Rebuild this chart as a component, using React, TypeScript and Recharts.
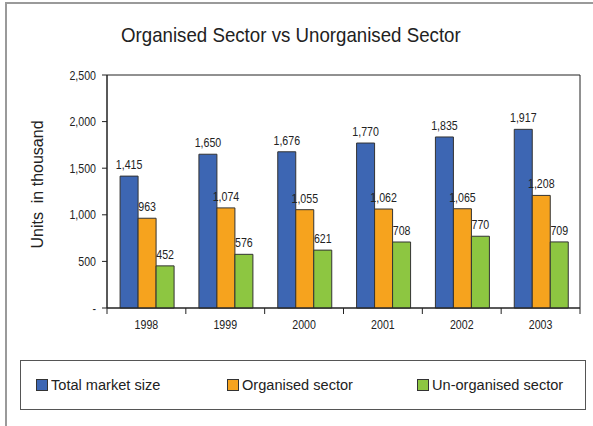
import { BarChart, Bar, XAxis, YAxis, LabelList, ReferenceArea } from "recharts";

// Units in thousand
const years = ["1998", "1999", "2000", "2001", "2002", "2003"];
const totalMarket = [1415, 1650, 1676, 1770, 1835, 1917];
const organised = [963, 1074, 1055, 1062, 1065, 1208];
const unorganised = [452, 576, 621, 708, 770, 709];
const yTicks = [0, 500, 1000, 1500, 2000, 2500];

const series = [
  { key: "total", name: "Total market size", color: "#3d66b3" },
  { key: "organised", name: "Organised sector", color: "#f6a31e" },
  { key: "unorganised", name: "Un-organised sector", color: "#8dc641" },
];

const data = years.map((year, i) => ({
  year,
  total: totalMarket[i],
  organised: organised[i],
  unorganised: unorganised[i],
}));

const W = 593;
const H = 426;
const margin = { top: 75, right: 13, bottom: 88, left: 47 };
const yAxisWidth = 60;
const plotWidth = W - margin.left - margin.right - yAxisWidth;
const band = plotWidth / years.length;

const sans = "'Liberation Sans', Arial, sans-serif";
const ink = "#222";
// the original uses a condensed face for numbers; squeeze Liberation Sans instead
const squeeze = 0.85;
const numSize = 12.5;

const fmt = (v: number) => (v === 0 ? "-" : v.toLocaleString("en-US"));

function Num({ x, y, anchor, children }: any) {
  return (
    <text
      transform={`translate(${x},${y}) scale(${squeeze},1)`}
      textAnchor={anchor}
      fontSize={numSize}
      fontFamily={sans}
      fill={ink}
    >
      {children}
    </text>
  );
}

function YearTick(props: any) {
  const { x, y, payload, index } = props;
  return (
    <g>
      <line x1={x - band / 2} y1={y} x2={x - band / 2} y2={y + 6} stroke={ink} />
      {index === years.length - 1 && (
        <line x1={x + band / 2} y1={y} x2={x + band / 2} y2={y + 6} stroke={ink} />
      )}
      <Num x={x} y={y + 20.5} anchor="middle">
        {payload.value}
      </Num>
    </g>
  );
}

function ValueTick(props: any) {
  const { x, y, payload } = props;
  return (
    <Num x={x} y={y + 4.5} anchor="end">
      {fmt(payload.value)}
    </Num>
  );
}

function BarValue(props: any) {
  const { x, y, width, value } = props;
  return (
    <Num x={x + width / 2} y={y - 7} anchor="middle">
      {fmt(Number(value))}
    </Num>
  );
}

function UnitsLabel(props: any) {
  const { viewBox } = props;
  const cx = viewBox.x - 10;
  const cy = viewBox.y + viewBox.height / 2 - 7;
  return (
    <text
      x={cx}
      y={cy}
      transform={`rotate(-90 ${cx} ${cy})`}
      textAnchor="middle"
      dominantBaseline="central"
      fontSize={16}
      fontFamily={sans}
      fill={ink}
      style={{ whiteSpace: "pre" }}
    >
      Units  in thousand
    </text>
  );
}

export default function App() {
  return (
    <div
      style={{
        position: "fixed",
        left: 0,
        top: 0,
        width: W,
        height: H,
        overflow: "hidden",
        background: "#fff",
      }}
    >
      {/* outer frame, runs off the right and bottom edge */}
      <div
        style={{
          position: "absolute",
          left: 5,
          top: 2,
          width: 640,
          height: 460,
          border: "2px solid #9a9a9a",
        }}
      />
      <div
        style={{
          position: "absolute",
          left: 0,
          top: 23,
          width: 582,
          textAlign: "center",
          fontFamily: sans,
          fontSize: 21,
          lineHeight: "24px",
          color: ink,
        }}
      >
        <span style={{ display: "inline-block", transform: "scaleX(0.89)" }}>
          Organised Sector vs Unorganised Sector
        </span>
      </div>

      <div style={{ position: "absolute", left: 0, top: 0 }}>
        <BarChart width={W} height={H} data={data} margin={margin} barCategoryGap="16.6%" barGap={0}>
          <ReferenceArea y1={0} y2={2500} fill="none" stroke={ink} strokeWidth={1} ifOverflow="visible" />
          <XAxis
            dataKey="year"
            tickLine={false}
            tickSize={0}
            tickMargin={0}
            height={30}
            axisLine={{ stroke: ink }}
            tick={<YearTick />}
            interval={0}
          />
          <YAxis
            width={yAxisWidth}
            domain={[0, 2500]}
            ticks={yTicks}
            tickSize={5}
            tickMargin={6}
            axisLine={{ stroke: ink }}
            tickLine={{ stroke: ink }}
            tick={<ValueTick />}
            label={<UnitsLabel />}
          />
          {series.map((s) => (
            <Bar
              key={s.key}
              dataKey={s.key}
              name={s.name}
              fill={s.color}
              stroke="#333"
              strokeWidth={1}
              isAnimationActive={false}
            >
              <LabelList dataKey={s.key} content={<BarValue />} />
            </Bar>
          ))}
        </BarChart>
      </div>

      {/* legend */}
      <div
        style={{
          position: "absolute",
          left: 20,
          top: 360,
          width: 566,
          height: 50,
          boxSizing: "border-box",
          border: "1px solid #555",
          display: "flex",
          alignItems: "center",
          paddingLeft: 15,
          fontFamily: sans,
          fontSize: 15.5,
          color: ink,
        }}
      >
        {series.map((s) => (
          <div
            key={s.key}
            style={{ width: 190.5, flexShrink: 0, display: "flex", alignItems: "center", whiteSpace: "nowrap" }}
          >
            <span
              style={{
                display: "inline-block",
                width: 12,
                height: 12,
                boxSizing: "border-box",
                border: "1px solid #333",
                background: s.color,
                marginRight: 3,
                flexShrink: 0,
              }}
            />
            <span style={{ display: "inline-block", transform: "scaleX(0.94)", transformOrigin: "left center" }}>
              {s.name}
            </span>
          </div>
        ))}
      </div>
    </div>
  );
}
